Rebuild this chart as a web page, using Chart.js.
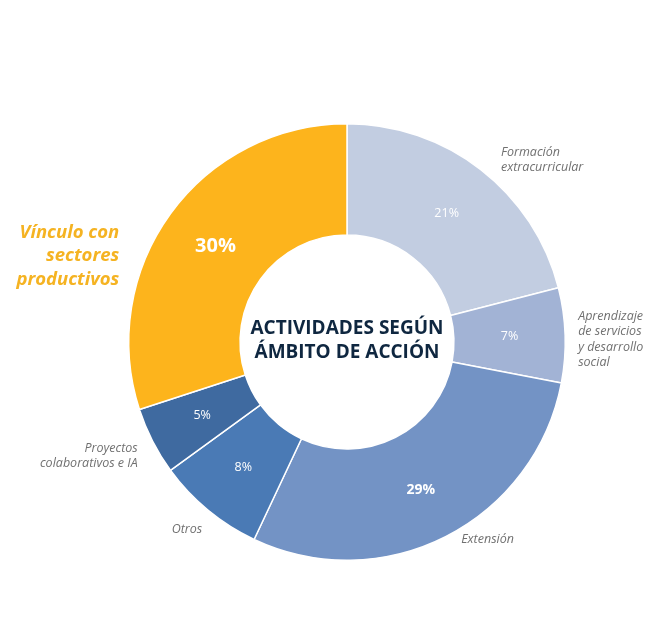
<!DOCTYPE html>
<html>
<head>
<meta charset="utf-8">
<script src="https://cdn.jsdelivr.net/npm/chart.js@4/dist/chart.umd.min.js"></script>
<style>
  html, body { margin: 0; padding: 0; background: #fff; }
  #wrap { width: 654px; height: 629px; position: relative; }
</style>
</head>
<body>
<div id="wrap"><canvas id="ambitoChart"></canvas></div>
<script>
// categories and values (percent), clockwise from 12 o'clock
var categories = [
    ["Formación", "extracurricular"],
    ["Aprendizaje", "de servicios", "y desarrollo", "social"],
    ["Extensión"],
    ["Otros"],
    ["Proyectos", "colaborativos e IA"],
    ["Vínculo con", "sectores", "productivos"]
];
var values = [21, 7, 29, 8, 5, 30];
var valueLabels = ["21%", "7%", "29%", "8%", "5%", "30%"];
var centerTitle = ["ACTIVIDADES SEGÚN", "ÁMBITO DE ACCIÓN"];

// styles
var colors = ["#c2cde1", "#a2b3d5", "#7393c5", "#4a7ab5", "#3f6aa0", "#fdb41c"];
var valueFonts = ["12.5px", "12.5px", "bold 14px", "12.5px", "12.5px", "bold 20px"];
var labelNudges = [[8, 6], [-7, 5], [6, -15], [7, 4], [3, 6], [-35, 54]];

var font = "'Open Sans', 'Noto Sans', sans-serif";

var labelPlugin = {
    id: "ambitoLabels",
    afterDatasetsDraw: function (chart) {
        var ctx = chart.ctx;
        var arcs = chart.getDatasetMeta(0).data;
        var cx = arcs[0].x, cy = arcs[0].y;
        ctx.save();
        ctx.textBaseline = "middle";

        arcs.forEach(function (arc, i) {
            // value inside the ring
            var p = arc.tooltipPosition();
            ctx.fillStyle = "#ffffff";
            ctx.textAlign = "center";
            ctx.font = valueFonts[i] + " " + font;
            ctx.fillText(valueLabels[i], p.x, p.y + (i === 2 ? 3 : 0));

            // category outside the ring
            var mid = (arc.startAngle + arc.endAngle) / 2;
            var r = arc.outerRadius + 20;
            var ax = cx + Math.cos(mid) * r + labelNudges[i][0];
            var ay = cy + Math.sin(mid) * r + labelNudges[i][1];
            var lines = categories[i];
            var big = i === 5;
            var lh = big ? 23.5 : 15.5;
            ctx.font = (big ? "italic bold 18.5px " : "italic 12.5px ") + font;
            ctx.fillStyle = big ? "#f5b322" : "#707070";
            ctx.textAlign = ax > cx ? "left" : "right";
            var y0 = ay - (lines.length - 1) * lh / 2;
            lines.forEach(function (t, k) {
                ctx.fillText(t, ax, y0 + k * lh);
            });
        });

        // title in the hole
        ctx.fillStyle = "#0f2740";
        ctx.textAlign = "center";
        ctx.font = "bold 19px " + font;
        ctx.fillText(centerTitle[0], cx, cy - 13);
        ctx.fillText(centerTitle[1], cx, cy + 11);
        ctx.restore();
    }
};

document.addEventListener("DOMContentLoaded", function () {
    var ctx = document.getElementById("ambitoChart").getContext("2d");
    new Chart(ctx, {
        type: "doughnut",
        data: {
            labels: categories.map(function (c) { return c.join(" "); }),
            datasets: [{
                data: values,
                backgroundColor: colors,
                borderColor: "#ffffff",
                borderWidth: 1.5
            }]
        },
        options: {
            responsive: true,
            maintainAspectRatio: false,
            animation: false,
            cutout: "49%",
            layout: { padding: { left: 128, right: 88, top: 123, bottom: 68 } },
            plugins: {
                legend: { display: false },
                tooltip: { enabled: false }
            }
        },
        plugins: [labelPlugin]
    });
});
</script>
</body>
</html>
